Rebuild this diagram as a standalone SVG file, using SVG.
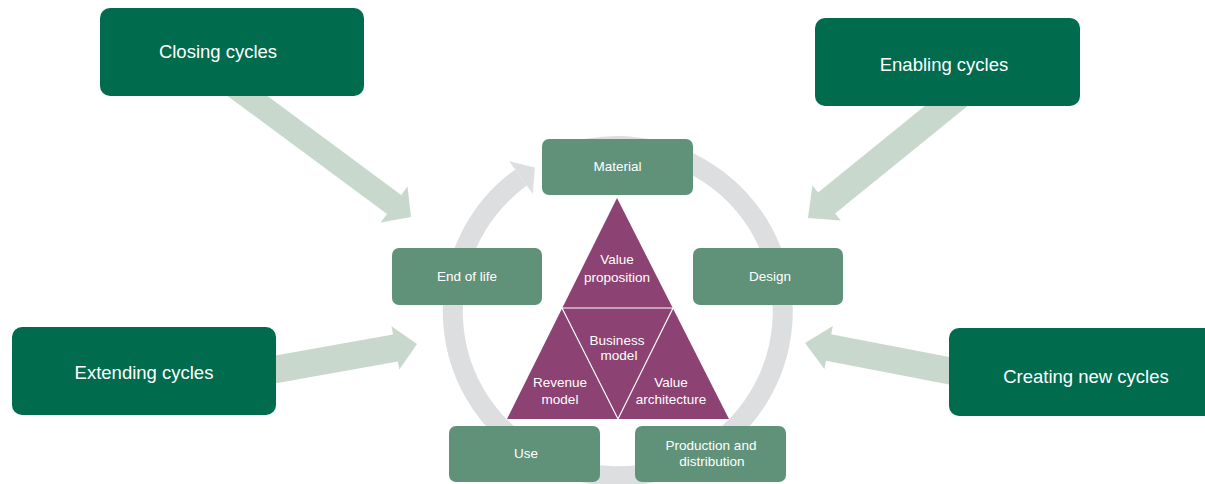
<svg xmlns="http://www.w3.org/2000/svg" width="1205" height="484" viewBox="0 0 1205 484">
  <style>
    .outer { fill: #006B4D; }
    .inner { fill: #5F9279; }
    .fat { fill: #C9D8CD; }
    .ring { fill: none; stroke: #DDDEE0; stroke-width: 20; }
    .ringhead { fill: #DDDEE0; }
    .tri { fill: #8C4273; }
    .sep { stroke: #FFFFFF; stroke-width: 1.2; fill: none; }
    text { font-family: "Liberation Sans", Arial, sans-serif; fill: #FFFFFF; text-anchor: middle; }
    .big { font-size: 18.5px; }
    .small { font-size: 13.5px; }
  </style>
  <rect width="1205" height="484" fill="#FFFFFF"/>

  <g id="connectors">
    <path class="ring" d="M 561.6 156 A 165 165 0 1 1 521 177.5"/>
    <polygon class="ringhead" points="509.2,161.3 534.8,167.5 532.8,193.7"/>
    <polygon class="fat" points="241.3,76.5 401.2,194.9 407.5,186.4 411,217 380.7,222.6 387,214.1 227.1,95.7"/>
    <polygon class="fat" points="971.9,102.5 835.1,213.4 840.8,220.4 808,218 812.4,185.4 818.1,192.4 954.9,81.5"/>
    <polygon class="fat" points="267,357.1 393,334.4 391.5,326.3 417,344 399.3,369.5 397.8,361.4 271.8,384.1"/>
    <polygon class="fat" points="964.7,359.9 831.2,334.2 832.8,325.9 805,343 824.4,369.1 826,360.8 959.5,386.5"/>
  </g>

  <g id="closing-cycles">
    <rect class="outer" x="100" y="8" width="264" height="88" rx="10"/>
    <text class="big" x="218" y="58">Closing cycles</text>
  </g>
  <g id="enabling-cycles">
    <rect class="outer" x="815" y="18" width="265" height="88" rx="10"/>
    <text class="big" x="944" y="71">Enabling cycles</text>
  </g>
  <g id="extending-cycles">
    <rect class="outer" x="12" y="327" width="264" height="88" rx="10"/>
    <text class="big" x="144" y="379">Extending cycles</text>
  </g>
  <g id="creating-new-cycles">
    <rect class="outer" x="949" y="328" width="270" height="88" rx="10"/>
    <text class="big" x="1086" y="383">Creating new cycles</text>
  </g>

  <g id="material">
    <rect class="inner" x="542" y="139" width="151" height="56" rx="7"/>
    <text class="small" x="617.5" y="171">Material</text>
  </g>
  <g id="end-of-life">
    <rect class="inner" x="392" y="248" width="150" height="57" rx="7"/>
    <text class="small" x="467" y="281">End of life</text>
  </g>
  <g id="design">
    <rect class="inner" x="693" y="248" width="150" height="57" rx="7"/>
    <text class="small" x="770" y="281">Design</text>
  </g>
  <g id="use">
    <rect class="inner" x="449" y="426" width="151" height="56" rx="7"/>
    <text class="small" x="526" y="458">Use</text>
  </g>
  <g id="production-and-distribution">
    <rect class="inner" x="635" y="426" width="151" height="56" rx="7"/>
    <text class="small" x="711" y="450">Production and</text>
    <text class="small" x="712" y="466">distribution</text>
  </g>

  <g id="business-model-triangle">
    <polygon class="tri" points="617,198 729,419 507,419"/>
    <polyline class="sep" points="562,308 673,308 618,419 562,308"/>
    <text class="small" x="617" y="264">Value</text>
    <text class="small" x="617" y="282">proposition</text>
    <text class="small" x="617" y="345">Business</text>
    <text class="small" x="619" y="360">model</text>
    <text class="small" x="560" y="387">Revenue</text>
    <text class="small" x="560" y="404">model</text>
    <text class="small" x="671" y="387">Value</text>
    <text class="small" x="671" y="404">architecture</text>
  </g>
</svg>
